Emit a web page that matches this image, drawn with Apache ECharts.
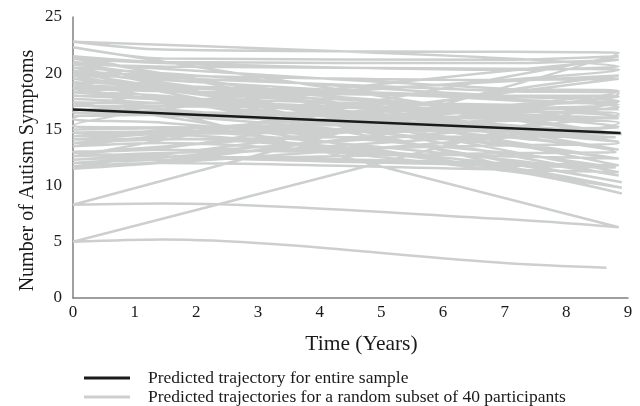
<!DOCTYPE html>
<html>
<head>
<meta charset="utf-8">
<script src="https://cdn.jsdelivr.net/npm/echarts@6/dist/echarts.min.js"></script>
<style>html,body{margin:0;padding:0;background:#fff}#chart{width:640px;height:406px}</style>
</head>
<body>
<div id="chart"></div>
<script>
// Time points (years) at which each participant's predicted value is shown
const timePoints = [0, 1.45, 7.05];
// Final time point for each participant (in plotted order)
const finalTimes = [8.85, 8.85, 8.9, 8.85, 8.85, 8.8, 8.85, 8.85, 8.85, 8.85,
                    8.9, 8.85, 8.8, 8.85, 8.85, 8.85, 8.85, 8.85, 8.9, 8.85,
                    8.85, 8.85, 8.85, 8.85, 8.8, 8.85, 8.85, 8.85, 8.9, 8.85,
                    8.85, 8.85, 8.85, 8.85, 8.85, 8.85, 8.85, 8.85, 8.85, 8.65];
// Predicted symptoms of the random subset (values at 0, 1.45, 7.05, final time), in plotted order
const participantSymptoms = [
  [17.7, 17.3, 14.8, 13.9],
  [20.2, 19.8, 19.4, 19.5],
  [13.5, 13.8, 11.3, 9.3],
  [21.0, 20.4, 18.6, 18.4],
  [14.4, 14.6, 14.9, 15.2],
  [12.0, 12.3, 12.9, 13.0],
  [19.5, 19.0, 16.8, 16.2],
  [15.0, 15.2, 14.8, 14.6],
  [22.3, 21.3, 21.2, 21.5],
  [12.6, 12.9, 13.6, 13.8],
  [18.3, 18.0, 15.4, 14.6],
  [20.8, 20.6, 20.4, 20.3],
  [15.9, 15.6, 12.9, 11.6],
  [13.0, 13.3, 18.5, 19.8],
  [16.5, 16.3, 13.6, 12.4],
  [18.6, 18.4, 18.0, 18.0],
  [11.7, 12.0, 11.4, 11.2],
  [20.5, 20.0, 18.0, 17.9],
  [14.1, 14.2, 11.6, 9.8],
  [17.4, 17.3, 16.6, 16.4],
  [12.3, 12.6, 12.0, 11.8],
  [21.5, 21.0, 20.9, 21.2],
  [15.3, 15.1, 12.3, 10.9],
  [19.8, 19.6, 18.4, 18.2],
  [13.8, 14.1, 14.4, 14.3],
  [16.8, 16.6, 15.9, 15.6],
  [11.5, 12.1, 16.0, 17.0],
  [18.9, 18.5, 16.2, 15.3],
  [14.7, 14.6, 11.9, 10.3],
  [19.2, 18.9, 17.9, 17.5],
  [12.9, 13.2, 12.6, 12.4],
  [20.0, 19.4, 17.6, 17.2],
  [16.2, 16.3, 16.1, 16.0],
  [18.0, 17.8, 17.0, 16.8],
  [17.1, 16.8, 14.3, 13.2],
  [21.3, 20.9, 20.3, 20.6],
  [22.8, 22.1, 21.9, 21.8],
  [8.3, 8.4, 7.0, 6.3],
  [18.7, 18.4, 17.2, 17.5],
  [5.0, 5.2, 3.1, 2.7]
];
// Predicted trajectory for the entire sample
const sampleTime = [0, 8.88];
const sampleSymptoms = [16.76, 14.68];
const yTicks = [0, 5, 10, 15, 20, 25];
const xTicks = [0, 1, 2, 3, 4, 5, 6, 7, 8, 9];
const legendNames = ['Predicted trajectory for entire sample',
                     'Predicted trajectories for a random subset of 40 participants'];

const grayData = [];
participantSymptoms.forEach((vals, i) => {
  const ts = timePoints.concat([finalTimes[i]]);
  vals.forEach((v, j) => grayData.push([ts[j], v]));
});
const blackData = sampleTime.map((t, i) => [t, sampleSymptoms[i]]);

const serif = '"Liberation Serif", "DejaVu Serif", serif';
const legendBase = {
  orient: 'vertical', left: 84, padding: 0,
  itemWidth: 46, itemHeight: 3, icon: 'rect',
  textStyle: { fontFamily: serif, fontSize: 17.5, color: '#1a1a1a', padding: [0, 0, 0, 13] }
};
const chart = echarts.init(document.getElementById('chart'));
chart.setOption({
  animation: false,
  backgroundColor: '#ffffff',
  grid: { left: 73, right: 12, top: 17, bottom: 108 },
  xAxis: {
    type: 'value', min: xTicks[0], max: xTicks[xTicks.length - 1], interval: 1,
    name: 'Time (Years)', nameLocation: 'middle', nameGap: 35, nameMoveOverlap: false,
    nameTextStyle: { fontFamily: serif, fontSize: 21.5, color: '#1a1a1a', padding: [0, 0, 0, 22] },
    axisLine: { show: true, lineStyle: { color: '#808080', width: 1.5 } },
    axisTick: { show: false },
    splitLine: { show: false },
    axisLabel: { fontFamily: serif, fontSize: 17, color: '#1a1a1a', margin: 6 }
  },
  yAxis: {
    type: 'value', min: yTicks[0], max: yTicks[yTicks.length - 1], interval: 5,
    name: 'Number of Autism Symptoms', nameLocation: 'middle', nameGap: 35, nameMoveOverlap: false,
    nameTextStyle: { fontFamily: serif, fontSize: 20, color: '#1a1a1a', padding: [0, 26, 0, 0] },
    axisLine: { show: true, lineStyle: { color: '#808080', width: 1.5 } },
    axisTick: { show: false },
    splitLine: { show: false },
    axisLabel: { fontFamily: serif, fontSize: 17, color: '#1a1a1a', margin: 11 }
  },
  legend: [
    Object.assign({}, legendBase, { top: 369, data: [legendNames[0]] }),
    Object.assign({}, legendBase, { top: 388, data: [legendNames[1]] })
  ],
  series: [
    {
      name: legendNames[1], type: 'line', data: grayData,
      smooth: 0.3, showSymbol: false, symbol: 'none',
      itemStyle: { color: '#cdcfcf' },
      lineStyle: { color: '#cdcfcf', width: 2.5 }
    },
    {
      name: legendNames[0], type: 'line', data: blackData,
      showSymbol: false, symbol: 'none', z: 3,
      itemStyle: { color: '#1a1a1a' },
      lineStyle: { color: '#1a1a1a', width: 2.5 }
    }
  ]
});
</script>
</body>
</html>
